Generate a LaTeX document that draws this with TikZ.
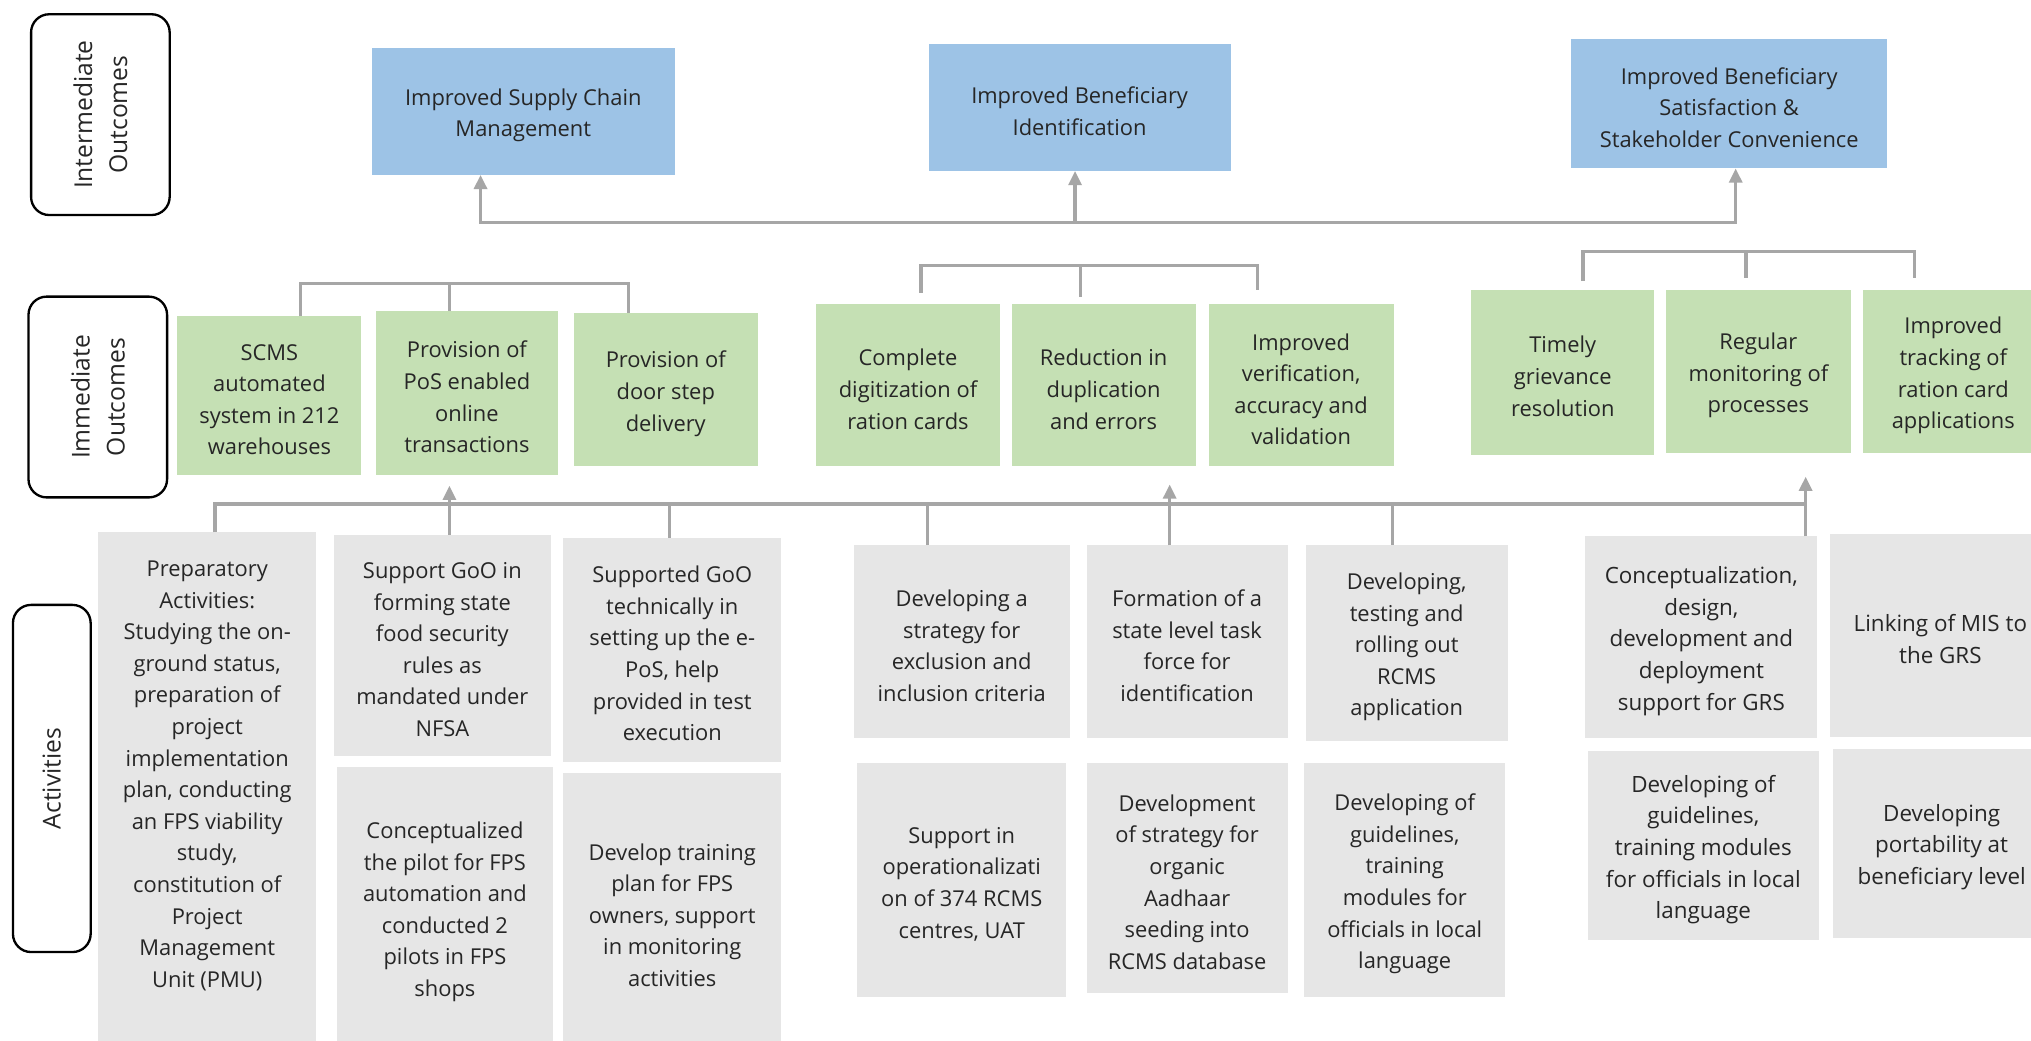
\documentclass[tikz,border=0pt]{standalone}
\usepackage{fontspec}
\setmainfont{Open Sans}
\usetikzlibrary{arrows.meta,fit}
\definecolor{blueb}{HTML}{9DC3E6}
\definecolor{greenb}{HTML}{C5E0B4}
\definecolor{grayb}{HTML}{E6E6E6}
\definecolor{connc}{HTML}{A6A6A6}
\definecolor{txt}{HTML}{262626}
\begin{document}
\begin{tikzpicture}[x=1pt,y=-1pt,
  every node/.style={inner sep=0pt, outer sep=0pt},
  tx/.style={align=center, text=txt, font=\fontsize{16.9}{24.4}\selectfont},
  txr/.style={align=center, text=txt, font=\fontsize{17.3}{24.4}\selectfont},
  tl/.style={label={[tx, yshift=-3pt]center:{#1}}},
  trl/.style={label={[txr, yshift=-3pt]center:{#1}}},
  bbox/.style={fill=blueb},
  gbox/.style={fill=greenb},
  abox/.style={fill=grayb},
  lab/.style={draw=black, line width=1.8pt, fill=white, rounded corners=14pt, rotate=90, align=center, text=txt, font=\fontsize{19}{27}\selectfont},
  conn/.style={draw=connc, line width=2.6pt},
  arr/.style={conn, -{Triangle[length=11pt,width=10pt]}},
  darr/.style={conn, {Triangle[length=11pt,width=10pt]}-{Triangle[length=11pt,width=10pt]}},
]
\useasboundingbox (0,0) rectangle (1568,803);
\fill[white] (0,0) rectangle (1568,803);

% side labels
\node[lab, minimum width=155pt, minimum height=107pt] (L1) at (77.5,88.5) {Intermediate\\Outcomes};
\node[lab, minimum width=155pt, minimum height=107pt] (L2) at (75.5,306.5) {Immediate\\Outcomes};
\node[lab, minimum width=268pt, minimum height=60pt] (L3) at (40,601) {Activities};

% intermediate outcomes
\node[bbox, fit={(287,37) (521,135)}, tl={Improved Supply Chain\\Management}] (B1) {};
\node[bbox, fit={(717,34) (950,132)}, tl={Improved Beneficiary\\Identification}] (B2) {};
\node[bbox, fit={(1213,30) (1457,130)}, tl={Improved Beneficiary\\Satisfaction \&\\Stakeholder Convenience}] (B3) {};

% immediate outcomes
\node[gbox, fit={(137,244) (279,367)}, tl={SCMS\\automated\\system in 212\\warehouses}] (G1) {};
\node[gbox, fit={(290,240) (431,367)}, tl={Provision of\\PoS enabled\\online\\transactions}] (G2) {};
\node[gbox, fit={(443,242) (585,360)}, tl={Provision of\\door step\\delivery}] (G3) {};
\node[gbox, fit={(630,235) (772,360)}, tl={Complete\\digitization of\\ration cards}] (G4) {};
\node[gbox, fit={(781,235) (923,360)}, tl={Reduction in\\duplication\\and errors}] (G5) {};
\node[gbox, fit={(933,235) (1076,360)}, tl={Improved\\verification,\\accuracy and\\validation}] (G6) {};
\node[gbox, fit={(1136,224) (1277,351)}, tl={Timely\\grievance\\resolution}] (G7) {};
\node[gbox, fit={(1286,224) (1429,350)}, tl={Regular\\monitoring of\\processes}] (G8) {};
\node[gbox, fit={(1438,224) (1578,350)}, tl={Improved\\tracking of\\ration card\\applications}] (G9) {};

% activities
\node[abox, fit={(76,411) (244,810)}] (A1) {};
\node[tx] (A1t) at (160,599) {Preparatory\\Activities:\\Studying the on-\\ground status,\\preparation of\\project\\implementation\\plan, conducting\\an FPS viability\\study,\\constitution of\\Project\\Management\\Unit (PMU)};
\node[abox, fit={(258,413) (425,584)}, tl={Support GoO in\\forming state\\food security\\rules as\\mandated under\\NFSA}] (A2) {};
\node[abox, fit={(260,592) (427,810)}, tl={Conceptualized\\the pilot for FPS\\automation and\\conducted 2\\pilots in FPS\\shops}] (A3) {};
\node[abox, fit={(435,415) (603,588)}, tl={Supported GoO\\technically in\\setting up the e-\\PoS, help\\provided in test\\execution}] (A4) {};
\node[abox, fit={(435,597) (603,810)}, tl={Develop training\\plan for FPS\\owners, support\\in monitoring\\activities}] (A5) {};
\node[abox, fit={(659,421) (826,570)}, tl={Developing a\\strategy for\\exclusion and\\inclusion criteria}] (A6) {};
\node[abox, fit={(662,589) (823,770)}, tl={Support in\\operationalizati\\on of 374 RCMS\\centres, UAT}] (A7) {};
\node[abox, fit={(839,421) (994,570)}, tl={Formation of a\\state level task\\force for\\identification}] (A8) {};
\node[abox, fit={(839,589) (994,767)}, tl={Development\\of strategy for\\organic\\Aadhaar\\seeding into\\RCMS database}] (A9) {};
\node[abox, fit={(1008,421) (1164,572)}, tl={Developing,\\testing and\\rolling out\\RCMS\\application}] (A10) {};
\node[abox, fit={(1007,589) (1162,770)}, tl={Developing of\\guidelines,\\training\\modules for\\officials in local\\language}] (A11) {};
\node[abox, fit={(1224,414) (1403,570)}, trl={Conceptualization,\\design,\\development and\\deployment\\support for GRS}] (A12) {};
\node[abox, fit={(1226,580) (1404,726)}, trl={Developing of\\guidelines,\\training modules\\for officials in local\\language}] (A13) {};
\node[abox, fit={(1413,412) (1583,569)}, trl={Linking of MIS to\\the GRS}] (A14) {};
\node[abox, fit={(1415,578) (1583,724)}, trl={Developing\\portability at\\beneficiary level}] (A15) {};

% top connector to intermediate outcomes
\coordinate (t1) at (371,172);
\coordinate (t2) at (830,172);
\coordinate (t3) at (1340,172);
\draw[darr] (t1 |- B1.south) -- (t1) -- (t3) -- (t3 |- B3.south);
\draw[arr] (t2) -- (t2 |- B2.south);

% brackets above immediate outcomes
\coordinate (k1) at (232,219);
\coordinate (k2) at (347,219);
\coordinate (k3) at (485,219);
\draw[conn] (k1 |- G1.north) -- (k1) -- (k3) -- (k3 |- G3.north);
\draw[conn] (k2) -- (k2 |- G2.north);
\coordinate (m1) at (711,205);
\coordinate (m2) at (834,205);
\coordinate (m3) at (971,205);
\draw[conn] (m1 |- 0,226) -- (m1) -- (m3) -- (m3 |- 0,224);
\draw[conn] (m2) -- (m2 |- 0,229);
\coordinate (n1) at (1222,194);
\coordinate (n2) at (1348,194);
\coordinate (n3) at (1478,194);
\draw[conn] (n1 |- 0,217) -- (n1) -- (n3) -- (n3 |- 0,215);
\draw[conn] (n2) -- (n2 |- 0,215);

% activity connector line
\coordinate (s1) at (166,389);
\coordinate (s2) at (347,389);
\coordinate (s3) at (517,389);
\coordinate (s4) at (716,389);
\coordinate (s5) at (903,389);
\coordinate (s6) at (1075,389);
\coordinate (s7) at (1394,389);
\draw[conn] (s1 |- A1.north) -- (s1) -- (s7);
\draw[conn] (s3) -- (s3 |- A4.north);
\draw[conn] (s4) -- (s4 |- A6.north);
\draw[conn] (s6) -- (s6 |- A10.north);
\draw[arr, shorten >=8pt] (s2 |- A2.north) -- (s2 |- G2.south);
\draw[arr, shorten >=14pt] (s5 |- A8.north) -- (s5 |- G5.south);
\draw[arr, shorten >=18pt] (s7 |- A12.north) -- (s7 |- G8.south);
\end{tikzpicture}
\end{document}
